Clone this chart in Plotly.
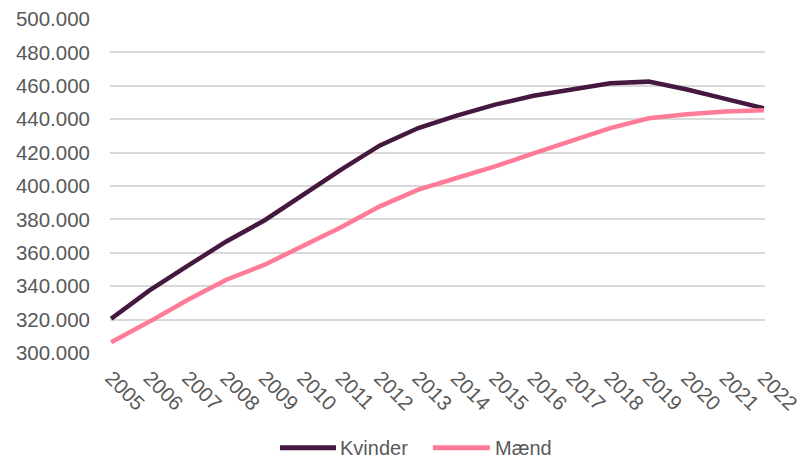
import plotly.graph_objects as go

# Befolkning efter køn, 2005-2022
years = list(range(2005, 2023))
kvinder = [320.5, 337.5, 352.3, 366.8, 379.5, 395.0, 410.0, 424.3, 434.7, 442.1,
           448.7, 454.0, 457.6, 461.5, 462.5, 457.8, 452.2, 446.5]
maend = [306.5, 318.8, 331.9, 343.9, 352.9, 364.3, 375.5, 387.8, 397.8, 404.8,
         411.7, 419.6, 427.2, 434.7, 440.6, 443.0, 444.6, 445.3]
kvinder = [v * 1000 for v in kvinder]
maend = [v * 1000 for v in maend]

y_ticks = list(range(300000, 500001, 20000))
y_labels = [f"{v:,}".replace(",", ".") for v in y_ticks]

series_names = ["Kvinder", "Mænd"]
series_colors = ["#45193F", "#FF7B97"]

font_family = "Liberation Sans, Arial, sans-serif"
grey = "#595959"

fig = go.Figure()
for name, vals, col in zip(series_names, [kvinder, maend], series_colors):
    fig.add_trace(go.Scatter(x=years, y=vals, mode="lines", name=name,
                             line=dict(color=col, width=4.5), showlegend=False))

# Legend below the plot: long line samples followed by labels
legend_y = -0.284
legend_items = [(0.2595, 0.345, 0.348), (0.493, 0.580, 0.585)]
for (x0, x1, xt), name, col in zip(legend_items, series_names, series_colors):
    fig.add_shape(type="line", xref="paper", yref="paper", x0=x0, x1=x1,
                  y0=legend_y, y1=legend_y, line=dict(color=col, width=5))
    fig.add_annotation(xref="paper", yref="paper", x=xt, y=legend_y, text=name,
                       showarrow=False, xanchor="left", yanchor="middle",
                       font=dict(size=20, color=grey))

fig.update_layout(
    width=806, height=464,
    margin=dict(l=110, r=41, t=19, b=111),
    plot_bgcolor="white", paper_bgcolor="white",
    font=dict(family=font_family, size=20, color=grey),
    showlegend=False,
    xaxis=dict(range=[2004.97, 2022.03], tickmode="array", tickvals=years,
               ticktext=[str(y) for y in years], tickangle=45, automargin=False,
               showgrid=False, zeroline=False, showline=False, ticks="",
               ticklabelstandoff=8, tickfont=dict(size=20.5, color=grey)),
    yaxis=dict(range=[300000, 500000], tickmode="array", tickvals=y_ticks,
               ticktext=y_labels, showgrid=True, gridcolor="#D9D9D9", gridwidth=1.5,
               zeroline=False, showline=False, ticks="", ticklabelstandoff=19,
               automargin=False, tickfont=dict(size=20.5, color=grey)),
)

fig.write_html("out.html")
